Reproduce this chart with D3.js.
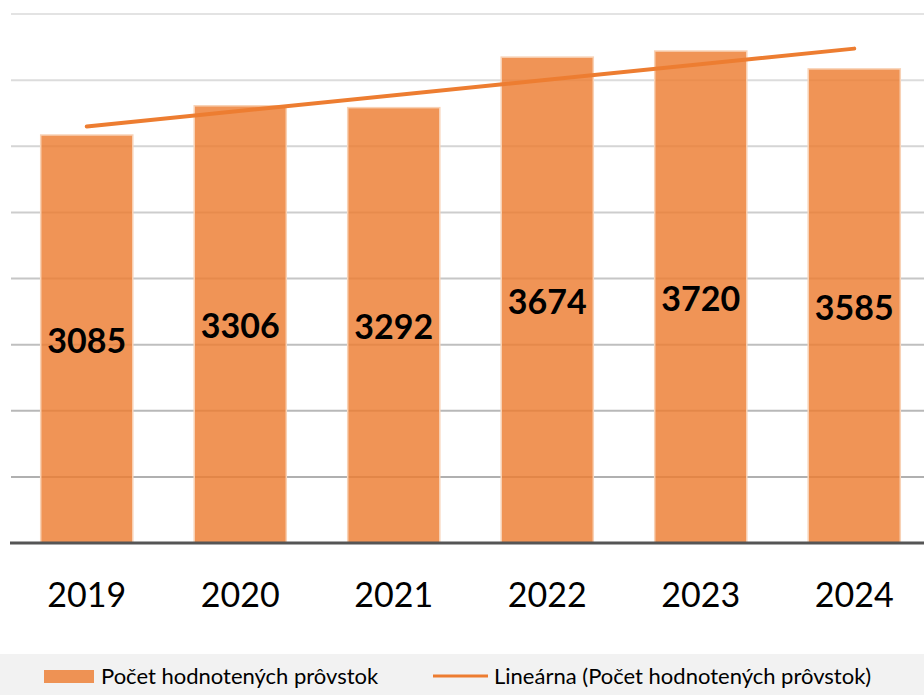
<!DOCTYPE html>
<html>
<head>
<meta charset="utf-8">
<script src="https://cdn.jsdelivr.net/npm/d3@7"></script>
<style>
  body { margin: 0; background: #fff; }
  svg { display: block; }
</style>
</head>
<body>
<script>
// data
var years = ['2019', '2020', '2021', '2022', '2023', '2024'];
var counts = [3085, 3306, 3292, 3674, 3720, 3585];
var yTicks = [0, 500, 1000, 1500, 2000, 2500, 3000, 3500, 4000];
var barLabel = 'Počet hodnotených prôvstok';
var trendLabel = 'Lineárna (Počet hodnotených prôvstok)';

var w = 924;
var h = 695;
var font = 'Lato, "Open Sans", sans-serif';

var svg = d3.select('body')
    .append('svg')
    .attr('width', w)
    .attr('height', h);

var x = d3.scaleBand()
    .domain(years)
    .range([10, 931])
    .paddingInner(0.4)
    .paddingOuter(0.2);

var y = d3.scaleLinear()
    .domain([0, 4000])
    .range([543, 14]);

// gridlines, lighter toward the top
var gridColor = d3.scaleLinear()
    .domain([0, 4000])
    .range(['#a9a9a9', '#e3e3e3']);

svg.selectAll('line.grid')
    .data(yTicks.slice(1))
    .enter()
    .append('line')
    .attr('class', 'grid')
    .attr('x1', 11)
    .attr('x2', w)
    .attr('y1', d => y(d))
    .attr('y2', d => y(d))
    .attr('stroke', d => gridColor(d))
    .attr('stroke-width', 2);

// bars
svg.selectAll('rect.bar')
    .data(counts)
    .enter()
    .append('rect')
    .attr('class', 'bar')
    .attr('x', (d, i) => x(years[i]))
    .attr('y', d => y(d))
    .attr('width', x.bandwidth())
    .attr('height', d => y(0) - y(d))
    .attr('fill', '#ed7d31')
    .attr('fill-opacity', 0.82)
    .attr('stroke', '#f8d2b6')
    .attr('stroke-width', 1.5);

// linear trend (least squares over the bars)
var n = counts.length;
var mx = (n + 1) / 2;
var my = d3.mean(counts);
var sxy = d3.sum(counts, (d, i) => (i + 1 - mx) * (d - my));
var sxx = d3.sum(counts, (d, i) => (i + 1 - mx) * (i + 1 - mx));
var slope = sxy / sxx;
var trend = [1, n].map(k => ({ year: years[k - 1], v: my + slope * (k - mx) }));

svg.append('path')
    .datum(trend)
    .attr('d', d3.line()
        .x(d => x(d.year) + x.bandwidth() / 2)
        .y(d => y(d.v)))
    .attr('fill', 'none')
    .attr('stroke', '#ed7d31')
    .attr('stroke-width', 4)
    .attr('stroke-linecap', 'round');

// value labels
svg.selectAll('text.val')
    .data(counts)
    .enter()
    .append('text')
    .attr('class', 'val')
    .text(d => d)
    .attr('x', (d, i) => x(years[i]) + x.bandwidth() / 2)
    .attr('y', d => (y(d) + y(0)) / 2)
    .attr('dy', '0.4em')
    .attr('text-anchor', 'middle')
    .attr('font-family', font)
    .attr('font-weight', 'bold')
    .attr('font-size', '34px')
    .attr('fill', '#000');

// baseline
svg.append('line')
    .attr('x1', 10)
    .attr('x2', w)
    .attr('y1', y(0))
    .attr('y2', y(0))
    .attr('stroke', '#555')
    .attr('stroke-width', 3);

// x axis labels
svg.selectAll('text.year')
    .data(years)
    .enter()
    .append('text')
    .attr('class', 'year')
    .text(d => d)
    .attr('x', d => x(d) + x.bandwidth() / 2)
    .attr('y', 607)
    .attr('text-anchor', 'middle')
    .attr('font-family', font)
    .attr('font-size', '34px')
    .attr('fill', '#000');

// legend
svg.append('rect')
    .attr('x', 0)
    .attr('y', 654)
    .attr('width', w)
    .attr('height', h - 654)
    .attr('fill', '#f2f2f2');

svg.append('rect')
    .attr('x', 44)
    .attr('y', 670)
    .attr('width', 50)
    .attr('height', 13)
    .attr('fill', '#ed7d31')
    .attr('fill-opacity', 0.82);

svg.append('text')
    .text(barLabel)
    .attr('x', 101)
    .attr('y', 684)
    .attr('font-family', font)
    .attr('font-size', '22px')
    .attr('fill', '#000');

svg.append('line')
    .attr('x1', 433)
    .attr('x2', 488)
    .attr('y1', 676)
    .attr('y2', 676)
    .attr('stroke', '#ed7d31')
    .attr('stroke-width', 3);

svg.append('text')
    .text(trendLabel)
    .attr('x', 494)
    .attr('y', 684)
    .attr('font-family', font)
    .attr('font-size', '22px')
    .attr('fill', '#000');
</script>
</body>
</html>
